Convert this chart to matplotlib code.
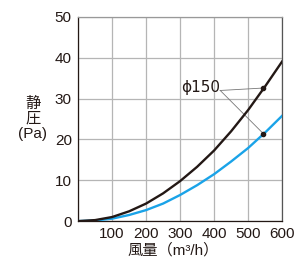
import matplotlib
matplotlib.use("Agg")
import matplotlib.pyplot as plt

plt.rcParams['font.family'] = ['Liberation Sans', 'Noto Sans CJK JP', 'DejaVu Sans']

airflow = [0, 50, 100, 150, 200, 250, 300, 350, 400, 450, 500, 550, 600]
pressure_black = [0, 0.25, 1.0, 2.4, 4.3, 6.8, 9.8, 13.3, 17.3, 22.0, 27.2, 33.0, 39.1]
pressure_blue = [0, 0.15, 0.6, 1.5, 2.7, 4.3, 6.4, 8.8, 11.5, 14.6, 17.9, 21.7, 25.8]
marker_x = 545
marker_black_y = 32.6
marker_blue_y = 21.4
label_text = "ϕ150"
xticks = [100, 200, 300, 400, 500, 600]
yticks = [0, 10, 20, 30, 40, 50]

fig = plt.figure(figsize=(3.05, 2.74), dpi=100)
ax = fig.add_axes([0.256, 0.193, 0.669, 0.745])

ax.plot(airflow, pressure_blue, color='#1aa3e8', lw=1.7, zorder=3)
ax.plot(airflow, pressure_black, color='#231815', lw=1.7, zorder=4)

ax.plot([marker_x], [marker_black_y], 'o', color='#231815', ms=3, zorder=5)
ax.plot([marker_x], [marker_blue_y], 'o', color='#231815', ms=3, zorder=5)

ax.text(359, 32.7, label_text, fontsize=11, ha='center', va='center', color='#231815',
        family=['DejaVu Sans'])
lx, ly = 418, 32.0
ax.plot([lx, marker_x], [ly, marker_black_y], color='#777777', lw=0.6, zorder=2)
ax.plot([lx, marker_x], [ly, marker_blue_y], color='#777777', lw=0.6, zorder=2)

ax.set_xlim(0, 600)
ax.set_ylim(0, 50)
ax.set_xticks(range(0, 601, 100))
ax.set_xticklabels([''] + [str(t) for t in xticks])
ax.set_yticks(yticks)
ax.grid(True, color='#b5b5b5', lw=0.9)
ax.set_axisbelow(True)
ax.tick_params(length=0, labelsize=11, colors='#231815', pad=4.5)
for s in ax.spines.values():
    s.set_color('#555555')
    s.set_linewidth(0.9)
ax.spines['left'].set_color('#231815')
ax.spines['bottom'].set_color('#231815')
ax.spines['top'].set_color('#999999')

fig.text(0.569, 0.088, "風量（m³/h）", ha='center', va='center', fontsize=11, color='#231815')
fig.text(0.108, 1 - 104 / 274, "静", ha='center', va='center', fontsize=11, color='#231815')
fig.text(0.108, 1 - 119 / 274, "圧", ha='center', va='center', fontsize=11, color='#231815')
fig.text(0.108, 1 - 134 / 274, "(Pa)", ha='center', va='center', fontsize=11, color='#231815')

fig.savefig("out.png", dpi=100)
